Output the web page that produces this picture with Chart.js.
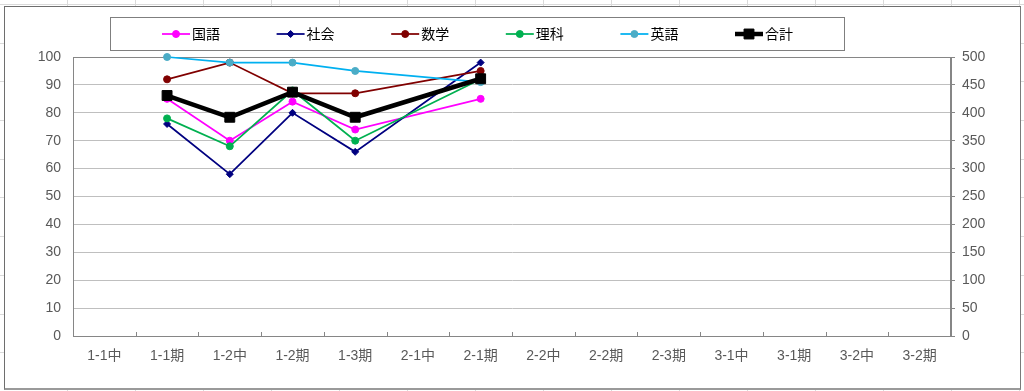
<!DOCTYPE html>
<html>
<head>
<meta charset="utf-8">
<script src="https://cdn.jsdelivr.net/npm/chart.js@4/dist/chart.umd.min.js"></script>
<style>
  html, body { margin: 0; padding: 0; }
  body {
    width: 1024px; height: 391px; position: relative; overflow: hidden;
    background-color: #fff;
    background-image:
      repeating-linear-gradient(to right, transparent 0, transparent 67px, #DADADA 67px, #DADADA 68px),
      repeating-linear-gradient(to bottom, transparent 0, transparent 4px, #DADADA 4px, #DADADA 5px, transparent 5px, transparent 38.7px);
  }
  #frame {
    position: absolute; left: 4px; top: 6px; width: 1015px; height: 381px;
    background: #fff; border: 1px solid #6E6E6E; border-bottom: 2px solid #9A9A9A; border-right: 1px solid #7A7A7A;
  }
  canvas { position: absolute; left: 0; top: 0; }
</style>
</head>
<body>
<div id="frame"></div>
<canvas id="c" width="1024" height="391"></canvas>
<script>
// ---- data ----
const categories = ['1-1中','1-1期','1-2中','1-2期','1-3期','2-1中','2-1期','2-2中','2-2期','2-3期','3-1中','3-1期','3-2中','3-2期'];
const kokugo  = [null, 85, 70, 84, 74, null, 85, null, null, null, null, null, null, null];
const shakai  = [null, 76, 58, 80, 66, null, 98, null, null, null, null, null, null, null];
const sugaku  = [null, 92, 98, 87, 87, null, 95, null, null, null, null, null, null, null];
const rika    = [null, 78, 68, 88, 70, null, 92, null, null, null, null, null, null, null];
const eigo    = [null, 100, 98, 98, 95, null, 91, null, null, null, null, null, null, null];
const goukei  = [null, 431, 392, 437, 392, null, 461, null, null, null, null, null, null, null];
const leftTicks = [0,10,20,30,40,50,60,70,80,90,100];
const rightTicks = [0,50,100,150,200,250,300,350,400,450,500];

Chart.defaults.font.family = '"Liberation Sans", "Noto Sans CJK JP", sans-serif';
Chart.defaults.font.size = 14;
Chart.defaults.color = '#595959';

const AX = '#868686';

const legendPlugin = {
  id: 'boxLegend',
  afterDraw(chart) {
    const ctx = chart.ctx;
    ctx.save();
    ctx.strokeStyle = '#7F7F7F';
    ctx.lineWidth = 1;
    ctx.fillStyle = '#fff';
    ctx.fillRect(110.5, 17.5, 734, 33);
    ctx.strokeRect(110.5, 17.5, 734, 33);
    const y = 34;
    chart.data.datasets.forEach((ds, i) => {
      const cx = 176 + i * 114.6;
      ctx.strokeStyle = ds.borderColor;
      ctx.lineWidth = ds.borderWidth;
      ctx.beginPath();
      ctx.moveTo(cx - 14, y);
      ctx.lineTo(cx + 14, y);
      ctx.stroke();
      ctx.fillStyle = ds.pointBackgroundColor;
      ctx.strokeStyle = ds.pointBorderColor;
      ctx.lineWidth = 1;
      Chart.helpers.drawPoint(ctx, {pointStyle: ds.pointStyle, radius: ds.pointRadius, borderWidth: 1, rotation: 0}, cx, y);
      ctx.fillStyle = '#000';
      ctx.font = '14px "Liberation Sans", "Noto Sans CJK JP", sans-serif';
      ctx.textBaseline = 'middle';
      ctx.textAlign = 'left';
      ctx.fillText(ds.label, cx + 16, y + 1);
    });
    ctx.restore();
  }
};

const frameTicksPlugin = {
  id: 'frameTicks',
  beforeDatasetsDraw(chart) {
    const ctx = chart.ctx;
    const a = chart.chartArea;
    const xs = chart.scales.x;
    ctx.save();
    ctx.strokeStyle = AX;
    ctx.lineWidth = 1;
    ctx.strokeRect(Math.round(a.left) + 0.5, Math.round(a.top) + 0.5, Math.round(a.right - a.left) - 1, Math.round(a.bottom - a.top));
    const n = categories.length;
    for (let i = 0; i <= n; i++) {
      const x = Math.round(xs.left + (xs.right - xs.left) * i / n) + 0.5;
      ctx.beginPath();
      ctx.moveTo(x, a.bottom);
      ctx.lineTo(x, a.bottom - 4);
      ctx.stroke();
    }
    ctx.restore();
  }
};

function mk(label, data, color, ptColor, style, r, bw, axis, order) {
  return {
    label, data, yAxisID: axis, order, clip: false,
    borderColor: color, backgroundColor: color,
    pointBackgroundColor: ptColor, pointBorderColor: ptColor,
    pointStyle: style, pointRadius: r, pointHoverRadius: r, pointBorderWidth: 1,
    borderWidth: bw, tension: 0, spanGaps: true, fill: false
  };
}

new Chart(document.getElementById('c'), {
  type: 'line',
  data: {
    labels: categories,
    datasets: [
      mk('国語', kokugo, '#FF00FF', '#FF00FF', 'circle', 3.5, 1.75, 'y', 5),
      mk('社会', shakai, '#000080', '#000080', 'rectRot', 3.5, 1.75, 'y', 4),
      mk('数学', sugaku, '#800000', '#800000', 'circle', 3.5, 1.75, 'y', 3),
      mk('理科', rika, '#00B050', '#00B050', 'circle', 3.5, 1.75, 'y', 2),
      mk('英語', eigo, '#00B0F0', '#4BACC6', 'circle', 3.5, 1.75, 'y', 1),
      mk('合計', goukei, '#000000', '#000000', 'rect', 7, 4.5, 'y2', 0)
    ]
  },
  options: {
    responsive: false,
    animation: false,
    devicePixelRatio: 1,
    layout: { padding: { top: 57, left: 0, right: 0, bottom: 0 } },
    plugins: { legend: { display: false }, tooltip: { enabled: false } },
    scales: {
      x: {
        offset: true,
        grid: { display: false, drawTicks: false },
        border: { display: true, color: AX, width: 1 },
        ticks: { padding: 12, maxRotation: 0, autoSkip: false, color: '#595959' },
        afterFit(s) { s.height = 55; }
      },
      y: {
        position: 'left', min: 0, max: 100,
        afterBuildTicks(s) { s.ticks = leftTicks.map(v => ({ value: v })); },
        grid: { color: '#BFBFBF', drawTicks: false, lineWidth: 1 },
        border: { display: true, color: AX, width: 1 },
        ticks: { padding: 12, color: '#595959' },
        afterFit(s) { s.width = 73; }
      },
      y2: {
        position: 'right', min: 0, max: 500,
        afterBuildTicks(s) { s.ticks = rightTicks.map(v => ({ value: v })); },
        grid: { drawOnChartArea: false, drawTicks: true, tickLength: 4, color: AX },
        border: { display: true, color: AX, width: 1 },
        ticks: { padding: 7, color: '#595959' },
        afterFit(s) { s.width = 73; }
      }
    }
  },
  plugins: [frameTicksPlugin, legendPlugin]
});
</script>
</body>
</html>
